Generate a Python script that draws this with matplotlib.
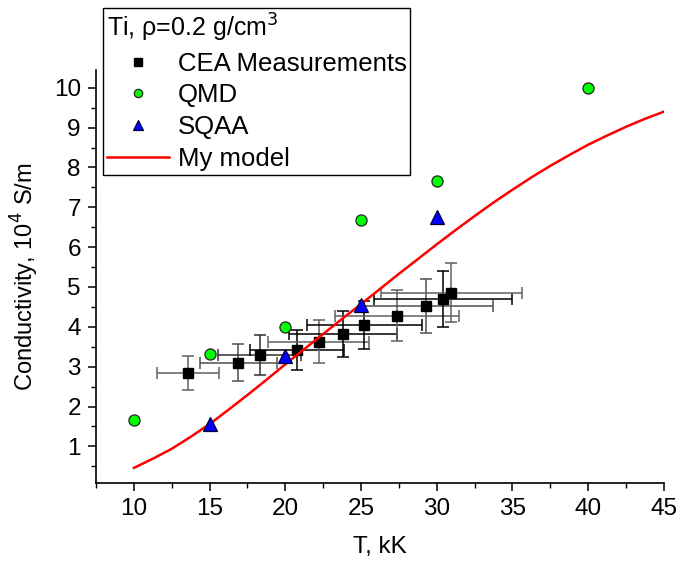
import matplotlib
matplotlib.use("Agg")
import matplotlib.pyplot as plt

plt.rcParams["font.family"] = ["Liberation Sans", "DejaVu Sans"]

# CEA measurements with ~15 % uncertainty on T and conductivity
cea_t = [13.6, 16.9, 18.3, 20.75, 22.2, 23.8, 25.2, 27.4, 29.3, 30.4, 30.95]
cea_s = [2.85, 3.10, 3.30, 3.42, 3.63, 3.82, 4.05, 4.28, 4.52, 4.70, 4.86]
cea_terr = [2.05, 2.55, 2.75, 3.10, 3.35, 3.55, 3.80, 4.10, 4.40, 4.55, 4.65]
cea_serr = [0.43, 0.46, 0.50, 0.51, 0.54, 0.57, 0.61, 0.64, 0.68, 0.70, 0.73]
cea_colors = ["#606060", "#505050", "#303030", "#000000", "#606060", "#000000",
              "#000000", "#606060", "#505050", "#000000", "#606060"]

qmd_t = [10, 15, 20, 25, 30, 40]
qmd_s = [1.65, 3.32, 4.00, 6.67, 7.66, 10.0]

sqaa_t = [15, 20, 25, 30]
sqaa_s = [1.57, 3.27, 4.55, 6.76]

model_t = [10, 11.25, 12.5, 13.75, 15, 16.25, 17.5, 18.75, 20, 21.25, 22.5,
           23.75, 25, 26.25, 27.5, 28.75, 30, 31.25, 32.5, 33.75, 35, 36.25,
           37.5, 38.75, 40, 41.25, 42.5, 43.75, 45]
model_s = [0.46, 0.69, 0.94, 1.24, 1.56, 1.92, 2.29, 2.67, 3.06, 3.44, 3.82,
           4.20, 4.57, 4.95, 5.33, 5.70, 6.07, 6.43, 6.78, 7.12, 7.44, 7.75,
           8.04, 8.31, 8.57, 8.80, 9.02, 9.22, 9.40]

fig = plt.figure(figsize=(6.83, 5.63), dpi=100)
ax = fig.add_axes([0.1406, 0.142, 0.972 - 0.1406, 0.876 - 0.142])

for t, s, dt, ds, c in zip(cea_t, cea_s, cea_terr, cea_serr, cea_colors):
    ax.errorbar(t, s, xerr=dt, yerr=ds, fmt="none", ecolor=c, elinewidth=1.1,
                capsize=4, capthick=1.1, zorder=2)
ax.plot(cea_t, cea_s, "s", color="black", markersize=7.5, zorder=3,
        label="CEA Measurements")
ax.plot(qmd_t, qmd_s, "o", markerfacecolor="#00ff00", markeredgecolor="#222222",
        markeredgewidth=0.9, markersize=8, zorder=4, label="QMD")
ax.plot(sqaa_t, sqaa_s, "^", markerfacecolor="#0000ff", markeredgecolor="#000033",
        markeredgewidth=0.9, markersize=9.5, zorder=4, label="SQAA")
ax.plot(model_t, model_s, "-", color="#ff0000", linewidth=1.8, zorder=3,
        solid_joinstyle="round", label="My model")

ax.set_xlim(7.5, 45)
ax.set_ylim(0.08, 10.45)
ax.set_xticks(range(10, 46, 5))
ax.set_xticks([x / 2 for x in range(15, 91, 5)], minor=True)
ax.set_yticks(range(1, 11))
ax.set_yticks([y / 2 for y in range(1, 21)], minor=True)

for side in ("top", "right"):
    ax.spines[side].set_visible(False)
for side in ("left", "bottom"):
    ax.spines[side].set_linewidth(1.2)

ax.tick_params(which="major", direction="out", length=6, width=1.1,
               labelsize=17.5, pad=5)
ax.tick_params(which="minor", direction="out", length=3.5, width=1.0)

ax.set_xlabel("T, kK", fontsize=17.5, labelpad=11)
ax.set_ylabel("Conductivity, 10$^4$ S/m", fontsize=17, labelpad=9)

leg = ax.legend(loc="upper left", bbox_to_anchor=(103 / 683, 1 - 8 / 563),
                bbox_transform=fig.transFigure, title="Ti, ρ=0.2 g/cm$^3$",
                fontsize=18.5, title_fontsize=18, frameon=True, fancybox=False,
                edgecolor="black", framealpha=1, borderpad=0.15,
                labelspacing=0.3, handlelength=2.4, handletextpad=0.35,
                borderaxespad=0, markerscale=0.75)
leg._legend_box.align = "left"
leg.get_frame().set_linewidth(1.0)

fig.savefig("out.png", dpi=100)
